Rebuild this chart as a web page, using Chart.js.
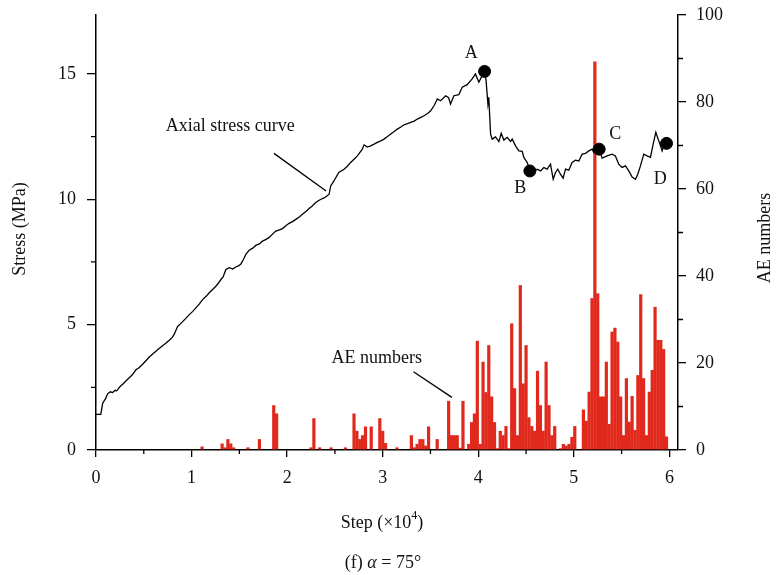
<!DOCTYPE html>
<html>
<head>
<meta charset="utf-8">
<script src="https://cdn.jsdelivr.net/npm/chart.js@4.4.1/dist/chart.umd.min.js"></script>
<style>
  html, body { margin: 0; padding: 0; background: #fff; }
</style>
</head>
<body>
<canvas id="stressChart" width="778" height="575"></canvas>
<script>
// Axial stress curve (step in 10^4, stress in MPa)
const stressStep = [
  0.000, 0.050, 0.070, 0.100, 0.122, 0.150, 0.174, 0.200, 0.216, 0.250,
  0.279, 0.310, 0.348, 0.380, 0.418, 0.450, 0.488, 0.520, 0.557, 0.590,
  0.627, 0.660, 0.697, 0.730, 0.767, 0.800, 0.819, 0.854, 0.880, 0.906,
  0.940, 0.976, 1.010, 1.045, 1.080, 1.115, 1.150, 1.185, 1.220, 1.254,
  1.280, 1.307, 1.330, 1.359, 1.394, 1.430, 1.463, 1.490, 1.516, 1.545,
  1.568, 1.603, 1.640, 1.672, 1.710, 1.742, 1.780, 1.812, 1.850, 1.882,
  1.920, 1.951, 1.990, 2.021, 2.060, 2.091, 2.130, 2.160, 2.200, 2.230,
  2.260, 2.300, 2.330, 2.369, 2.400, 2.439, 2.456, 2.490, 2.540, 2.596,
  2.630, 2.665, 2.700, 2.735, 2.787, 2.805, 2.840, 2.874, 2.910, 2.944,
  2.980, 3.014, 3.050, 3.084, 3.120, 3.153, 3.190, 3.223, 3.260, 3.293,
  3.330, 3.362, 3.400, 3.432, 3.470, 3.502, 3.540, 3.571, 3.606, 3.658,
  3.690, 3.710, 3.745, 3.797, 3.832, 3.884, 3.936, 3.971, 4.006, 4.041,
  4.066, 4.082, 4.101, 4.110, 4.129, 4.146, 4.181, 4.216, 4.240, 4.268,
  4.303, 4.338, 4.355, 4.390, 4.425, 4.460, 4.477, 4.512, 4.540, 4.580,
  4.617, 4.652, 4.686, 4.721, 4.756, 4.784, 4.808, 4.832, 4.860, 4.888,
  4.913, 4.947, 4.982, 5.017, 5.052, 5.087, 5.122, 5.157, 5.192, 5.209,
  5.244, 5.265, 5.296, 5.348, 5.400, 5.435, 5.470, 5.505, 5.540, 5.575,
  5.610, 5.645, 5.669, 5.697, 5.732, 5.767, 5.802, 5.830, 5.858, 5.889,
  5.924, 5.941, 5.970
];
const stressValue = [
  1.42, 1.42, 1.87, 2.05, 2.24, 2.32, 2.29, 2.38, 2.36, 2.52,
  2.62, 2.74, 2.88, 3.00, 3.20, 3.28, 3.42, 3.55, 3.71, 3.82,
  3.94, 4.05, 4.16, 4.26, 4.38, 4.50, 4.62, 4.93, 5.02, 5.12,
  5.25, 5.40, 5.52, 5.67, 5.82, 6.00, 6.12, 6.27, 6.40, 6.53,
  6.65, 6.80, 6.90, 7.20, 7.27, 7.22, 7.30, 7.34, 7.42, 7.62,
  7.80, 7.97, 8.05, 8.16, 8.22, 8.33, 8.40, 8.48, 8.62, 8.73,
  8.78, 8.83, 8.95, 9.04, 9.12, 9.20, 9.30, 9.40, 9.52, 9.63,
  9.72, 9.87, 9.95, 10.03, 10.08, 10.20, 10.53, 10.73, 11.07, 11.20,
  11.32, 11.47, 11.60, 11.73, 12.00, 12.17, 12.08, 12.13, 12.20, 12.27,
  12.33, 12.40, 12.50, 12.60, 12.70, 12.80, 12.88, 12.97, 13.02, 13.07,
  13.12, 13.20, 13.27, 13.33, 13.42, 13.53, 13.75, 14.00, 13.93, 14.13,
  14.05, 13.80, 14.13, 14.17, 14.47, 14.57, 14.80, 15.00, 14.67, 14.93,
  15.10, 14.73, 13.80, 14.07, 12.60, 12.40, 12.49, 12.30, 12.63, 12.36,
  12.47, 12.31, 12.40, 12.13, 11.93, 11.91, 11.67, 11.47, 11.16, 11.11,
  11.20, 11.13, 11.27, 11.20, 11.40, 10.80, 11.07, 11.20, 11.00, 10.84,
  11.20, 11.16, 11.47, 11.56, 11.53, 11.80, 11.83, 11.93, 12.00, 11.87,
  12.00, 12.00, 11.64, 11.73, 11.80, 11.73, 11.40, 11.27, 11.33, 11.13,
  10.89, 10.80, 11.00, 11.33, 11.80, 11.73, 11.67, 12.20, 12.67, 12.33,
  11.93, 12.13, 12.23
];

// Marked points on the stress curve
const markLabels = ["A", "B", "C", "D"];
const markStep = [4.066, 4.540, 5.265, 5.970];
const markStress = [15.10, 11.13, 12.00, 12.23];

// AE numbers per step bin (bin centre, count)
const aeStep = [
  1.11, 1.32, 1.35, 1.38, 1.41, 1.44, 1.59, 1.71, 1.86, 1.89,
  2.25, 2.28, 2.34, 2.46, 2.61, 2.70, 2.73, 2.76, 2.79, 2.82,
  2.88, 2.97, 3.00, 3.03, 3.15, 3.30, 3.33, 3.36, 3.39, 3.42,
  3.45, 3.48, 3.57, 3.69, 3.72, 3.75, 3.78, 3.81, 3.84, 3.90,
  3.93, 3.96, 3.99, 4.02, 4.05, 4.08, 4.11, 4.14, 4.17, 4.20,
  4.23, 4.26, 4.29, 4.32, 4.35, 4.38, 4.41, 4.44, 4.47, 4.50,
  4.53, 4.56, 4.59, 4.62, 4.65, 4.68, 4.71, 4.74, 4.77, 4.80,
  4.86, 4.89, 4.92, 4.95, 4.98, 5.01, 5.10, 5.13, 5.16, 5.19,
  5.22, 5.25, 5.28, 5.31, 5.34, 5.37, 5.40, 5.43, 5.46, 5.49,
  5.52, 5.55, 5.58, 5.61, 5.64, 5.67, 5.70, 5.73, 5.76, 5.79,
  5.82, 5.85, 5.88, 5.91, 5.94, 5.97
];
const aeCount = [
  0.8, 1.5, 0.6, 2.5, 1.5, 0.6, 0.6, 2.5, 10.3, 8.4,
  0.6, 7.3, 0.6, 0.6, 0.6, 8.4, 4.4, 2.5, 3.4, 5.4,
  5.4, 7.3, 4.4, 1.6, 0.6, 3.4, 0.6, 1.4, 2.5, 2.5,
  1.0, 5.4, 2.5, 11.3, 3.4, 3.4, 3.4, 0.5, 11.3, 1.4,
  6.4, 8.4, 25.1, 1.4, 20.3, 13.3, 24.1, 12.3, 6.4, 0.4,
  4.4, 3.4, 5.5, 0.4, 29.1, 14.2, 3.4, 37.9, 15.3, 24.1,
  7.5, 5.5, 4.4, 18.2, 10.3, 4.4, 20.3, 10.3, 3.4, 5.5,
  0.4, 1.4, 1.0, 1.4, 3.0, 5.5, 9.3, 6.7, 13.4, 34.9,
  89.3, 36.0, 12.3, 12.3, 20.3, 6.0, 27.2, 28.1, 24.9, 12.3,
  3.4, 16.5, 6.5, 12.4, 4.6, 17.2, 35.8, 16.5, 3.4, 13.4,
  18.4, 32.9, 25.3, 25.3, 23.2, 3.1
];

// Tick labels
const xTicks = [0, 1, 2, 3, 4, 5, 6];
const xMinorTicks = [0.5, 1.5, 2.5, 3.5, 4.5, 5.5];
const stressTicks = [0, 5, 10, 15];
const stressMinorTicks = [2.5, 7.5, 12.5];
const aeTicks = [0, 20, 40, 60, 80, 100];
const aeMinorTicks = [10, 30, 50, 70, 90];

const serif = "'Liberation Serif', 'DejaVu Serif', serif";
const fontPx = 18;
Chart.defaults.font.family = serif;
Chart.defaults.font.size = fontPx;
Chart.defaults.color = "#111";

const setTicks = (values) => (scale) => {
  scale.ticks = values.map((v) => ({ value: v }));
};
// fixed axis box, no extra room for overhanging labels
const fitBox = (w, h) => (s) => {
  if (w !== null) s.width = w;
  if (h !== null) s.height = h;
  s.paddingTop = 0;
  s.paddingBottom = 0;
  s.paddingLeft = 0;
  s.paddingRight = 0;
};

// axis titles, minor ticks and callouts
const overlay = {
  id: "overlay",
  afterDraw(chart) {
    const { ctx } = chart;
    const x = chart.scales.x;
    const ys = chart.scales.yStress;
    const ya = chart.scales.yAE;
    const px = (v) => x.getPixelForValue(v);
    const py = (v) => ys.getPixelForValue(v);
    const f = (size, style) => (style ? style + " " : "") + size + "px " + serif;

    ctx.save();
    ctx.strokeStyle = "#000";
    ctx.lineWidth = 1.3;
    ctx.beginPath();
    xMinorTicks.forEach((v) => {
      ctx.moveTo(px(v), x.top);
      ctx.lineTo(px(v), x.top + 4);
    });
    stressMinorTicks.forEach((v) => {
      ctx.moveTo(ys.right, py(v));
      ctx.lineTo(ys.right - 5, py(v));
    });
    aeMinorTicks.forEach((v) => {
      const y = ya.getPixelForValue(v);
      ctx.moveTo(ya.left, y);
      ctx.lineTo(ya.left + 5, y);
    });
    // leader lines
    ctx.moveTo(px(1.862), py(11.83));
    ctx.lineTo(px(2.408), py(10.33));
    ctx.moveTo(px(3.322), py(3.12));
    ctx.lineTo(px(3.724), py(2.10));
    ctx.stroke();

    ctx.fillStyle = "#111";
    ctx.font = f(fontPx);
    ctx.textAlign = "center";
    ctx.textBaseline = "middle";
    ctx.fillText("Axial stress curve", px(1.405), py(12.92));
    ctx.fillText("AE numbers", px(2.937), py(3.67));
    const labelPos = [[3.926, 15.84], [4.439, 10.45], [5.433, 12.60], [5.903, 10.81]];
    markLabels.forEach((t, i) => ctx.fillText(t, px(labelPos[i][0]), py(labelPos[i][1])));

    // rotated axis titles
    ctx.save();
    ctx.translate(20, 229);
    ctx.rotate(-Math.PI / 2);
    ctx.fillText("Stress (MPa)", 0, 0);
    ctx.restore();
    ctx.save();
    ctx.translate(765, 238);
    ctx.rotate(-Math.PI / 2);
    ctx.fillText("AE numbers", 0, 0);
    ctx.restore();

    // x title with superscript
    ctx.textAlign = "left";
    const a = "Step (\u00d710", b = "4", c = ")";
    ctx.font = f(fontPx);
    const wa = ctx.measureText(a).width, wc = ctx.measureText(c).width;
    ctx.font = f(12);
    const wb = ctx.measureText(b).width;
    let sx = 382 - (wa + wb + wc) / 2;
    ctx.font = f(fontPx);
    ctx.fillText(a, sx, 523);
    ctx.font = f(12);
    ctx.fillText(b, sx + wa, 516);
    ctx.font = f(fontPx);
    ctx.fillText(c, sx + wa + wb, 523);

    // caption
    const p1 = "(f) ", p2 = "\u03b1", p3 = " = 75\u00b0";
    const w1 = ctx.measureText(p1).width, w3 = ctx.measureText(p3).width;
    ctx.font = f(fontPx, "italic");
    const w2 = ctx.measureText(p2).width;
    sx = 383 - (w1 + w2 + w3) / 2;
    ctx.font = f(fontPx);
    ctx.fillText(p1, sx, 563);
    ctx.font = f(fontPx, "italic");
    ctx.fillText(p2, sx + w1, 563);
    ctx.font = f(fontPx);
    ctx.fillText(p3, sx + w1 + w2, 563);
    ctx.restore();
  },
};

const axisGrid = {
  drawOnChartArea: false,
  drawTicks: true,
  color: "#000",
  tickColor: "#000",
  lineWidth: 1.3,
};

new Chart(document.getElementById("stressChart"), {
  type: "line",
  data: {
    datasets: [
      {
        type: "scatter",
        data: markStep.map((s, i) => ({ x: s, y: markStress[i] })),
        yAxisID: "yStress",
        pointRadius: 6,
        pointBackgroundColor: "#000",
        pointBorderColor: "#000",
        showLine: false,
        order: 0,
      },
      {
        type: "line",
        data: stressStep.map((s, i) => ({ x: s, y: stressValue[i] })),
        yAxisID: "yStress",
        borderColor: "#000",
        borderWidth: 1.3,
        pointRadius: 0,
        tension: 0,
        fill: false,
        order: 1,
      },
      {
        type: "bar",
        data: aeStep.map((s, i) => ({ x: s, y: aeCount[i] })),
        yAxisID: "yAE",
        backgroundColor: "#e0291c",
        borderWidth: 0,
        barPercentage: 1.12,
        categoryPercentage: 1,
        order: 2,
      },
    ],
  },
  options: {
    responsive: false,
    animation: false,
    events: [],
    layout: { padding: { top: 15, left: 0, right: 0, bottom: 0 } },
    plugins: { legend: { display: false }, tooltip: { enabled: false } },
    scales: {
      x: {
        type: "linear",
        min: 0,
        max: 6.09,
        offset: false,
        afterBuildTicks: setTicks(xTicks),
        afterFit: fitBox(null, 125),
        grid: { ...axisGrid, offset: false, tickLength: 7 },
        border: { display: true, color: "#000", width: 1.5 },
        ticks: { padding: 10, maxRotation: 0 },
      },
      yStress: {
        type: "linear",
        position: "left",
        min: 0,
        max: 17.35,
        afterBuildTicks: setTicks(stressTicks),
        afterFit: fitBox(96, null),
        grid: { ...axisGrid, tickLength: 9 },
        border: { display: true, color: "#000", width: 1.5 },
        ticks: { padding: 11 },
      },
      yAE: {
        type: "linear",
        position: "right",
        min: 0,
        max: 100,
        afterBuildTicks: setTicks(aeTicks),
        afterFit: fitBox(100, null),
        grid: { ...axisGrid, tickLength: 8 },
        border: { display: true, color: "#000", width: 1.5 },
        ticks: { padding: 10 },
      },
    },
  },
  plugins: [overlay],
});
</script>
</body>
</html>
